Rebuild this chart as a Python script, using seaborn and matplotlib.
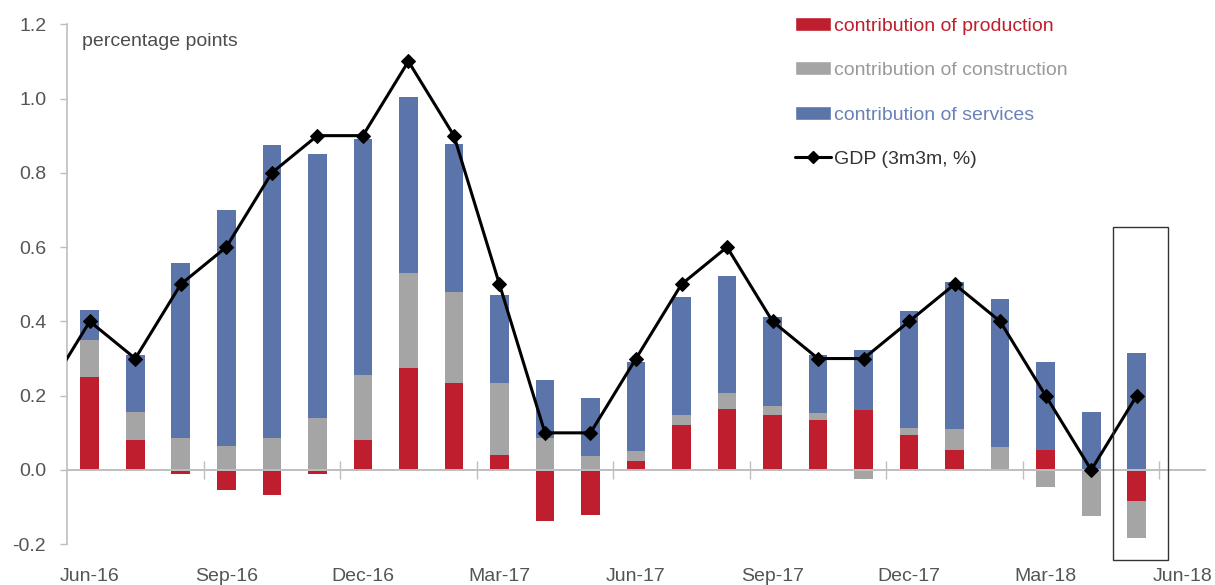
import numpy as np
import matplotlib
matplotlib.use("Agg")
import matplotlib.pyplot as plt
import seaborn as sns
from matplotlib import font_manager
from matplotlib.patches import Patch, Rectangle
from matplotlib.lines import Line2D

# ---------------- data ----------------
months = ["Jun-16", "Jul-16", "Aug-16", "Sep-16", "Oct-16", "Nov-16", "Dec-16",
          "Jan-17", "Feb-17", "Mar-17", "Apr-17", "May-17", "Jun-17", "Jul-17",
          "Aug-17", "Sep-17", "Oct-17", "Nov-17", "Dec-17", "Jan-18", "Feb-18",
          "Mar-18", "Apr-18", "May-18"]
tick_labels = ["Jun-16", "Sep-16", "Dec-16", "Mar-17", "Jun-17", "Sep-17",
               "Dec-17", "Mar-18", "Jun-18"]
production = [0.25, 0.08, -0.012, -0.055, -0.068, -0.012, 0.08, 0.275, 0.233,
              0.04, -0.137, -0.12, 0.025, 0.122, 0.164, 0.148, 0.135, 0.162,
              0.094, 0.054, 0.0, 0.053, 0.0, -0.083]
construction = [0.10, 0.075, 0.085, 0.065, 0.085, 0.14, 0.175, 0.255, 0.247,
                0.193, 0.085, 0.038, 0.027, 0.025, 0.043, 0.023, 0.018, -0.024,
                0.019, 0.056, 0.063, -0.047, -0.125, -0.101]
services = [0.08, 0.155, 0.473, 0.635, 0.79, 0.71, 0.635, 0.475, 0.397, 0.238,
            0.157, 0.157, 0.24, 0.32, 0.316, 0.24, 0.157, 0.162, 0.315, 0.395,
            0.397, 0.237, 0.157, 0.314]
gdp = [0.4, 0.3, 0.5, 0.6, 0.8, 0.9, 0.9, 1.1, 0.9, 0.5, 0.1, 0.1, 0.3, 0.5,
       0.6, 0.4, 0.3, 0.3, 0.4, 0.5, 0.4, 0.2, 0.0, 0.2]
gdp_may16 = 0.2  # preceding month, only the clipped line segment is visible
series_labels = ["contribution of production", "contribution of construction",
                 "contribution of services", "GDP (3m3m, %)"]

# ---------------- style ----------------
RED = "#BE1E2D"
GRAY = "#A5A5A5"
BLUE = "#5B74AA"
AXIS = "#BFBFBF"
TXT = "#555555"

sns.set_theme(style="white")
names = {f.name for f in font_manager.fontManager.ttflist}
fam = "Liberation Sans Narrow" if "Liberation Sans Narrow" in names else "Liberation Sans"
plt.rcParams["font.family"] = [fam, "DejaVu Sans"]

fig = plt.figure(figsize=(12.15, 5.85), dpi=100)
ax = fig.add_axes([67 / 1215, 1 - 544.3 / 585, (1205 - 67) / 1215, (544.3 - 24.2) / 585])

x = np.arange(len(months))
prod = np.array(production)
cons = np.array(construction)
serv = np.array(services)
pos_r, neg_r = np.clip(prod, 0, None), np.clip(prod, None, 0)
pos_c, neg_c = np.clip(cons, 0, None), np.clip(cons, None, 0)

layers = [
    (pos_r + pos_c + serv, BLUE),
    (pos_r + pos_c, GRAY),
    (pos_r, RED),
    (neg_r + neg_c, GRAY),
    (neg_r, RED),
]
for heights, col in layers:
    sns.barplot(x=x, y=heights, native_scale=True, orient="x", width=0.41,
                color=col, saturation=1, errorbar=None, linewidth=0, ax=ax)

sns.lineplot(x=np.arange(-1, len(months)), y=[gdp_may16] + gdp, color="black",
             lw=2.2, marker="D", markersize=7, markeredgecolor="black",
             ax=ax, zorder=5, legend=False)

ax.set_xlim(-0.5, len(months) + 0.5)
ax.set_ylim(-0.2, 1.2)
ax.set_xlabel("")
ax.set_ylabel("")

# spines
for s in ["top", "right"]:
    ax.spines[s].set_visible(False)
ax.spines["left"].set_color(AXIS)
ax.spines["left"].set_linewidth(1.2)
ax.spines["bottom"].set_position(("data", 0))
ax.spines["bottom"].set_color(AXIS)
ax.spines["bottom"].set_linewidth(1.4)

# y ticks
yt = np.round(np.arange(-0.2, 1.21, 0.2), 1)
ax.set_yticks(yt)
ax.set_yticklabels([f"{v:.1f}" for v in yt])
ax.tick_params(axis="y", direction="out", length=5, width=1, color=AXIS,
               labelsize=14, labelcolor=TXT, pad=10, left=True)

# tick marks between categories on zero line
ax.set_xticks(np.arange(2.5, len(months), 3))
ax.set_xticklabels([])
ax.tick_params(axis="x", direction="inout", length=13, width=1, color=AXIS,
               bottom=True)

# month labels at the bottom
sec = ax.secondary_xaxis(0.0)
sec.set_xticks(np.arange(0, len(months) + 1, 3))
sec.set_xticklabels(tick_labels)
sec.tick_params(length=0, pad=17, labelsize=14, labelcolor=TXT)
sec.spines["bottom"].set_visible(False)

# highlight box around the latest bar
ax.add_patch(Rectangle((22.48, -0.242), 1.21, 0.895, fill=False,
                       ec="#333333", lw=1.0, clip_on=False, zorder=6))

fig.text(82 / 1215, 1 - 42 / 585, "percentage points", color="#4D4D4D",
         fontsize=14, va="center", ha="left")

handles = [Patch(fc=RED), Patch(fc=GRAY), Patch(fc=BLUE),
           Line2D([], [], color="black", lw=2.2, marker="D", markersize=6)]
fig.legend(handles, series_labels, loc="upper left",
           bbox_to_anchor=(795 / 1215, 1 - 17 / 585), frameon=False,
           fontsize=14, handlelength=1.85, handleheight=0.7,
           handletextpad=0.15, labelspacing=1.38, borderpad=0, borderaxespad=0,
           labelcolor=[RED, "#9A9A9A", "#6A82B8", "#333333"])

fig.savefig("out.png", dpi=100)
